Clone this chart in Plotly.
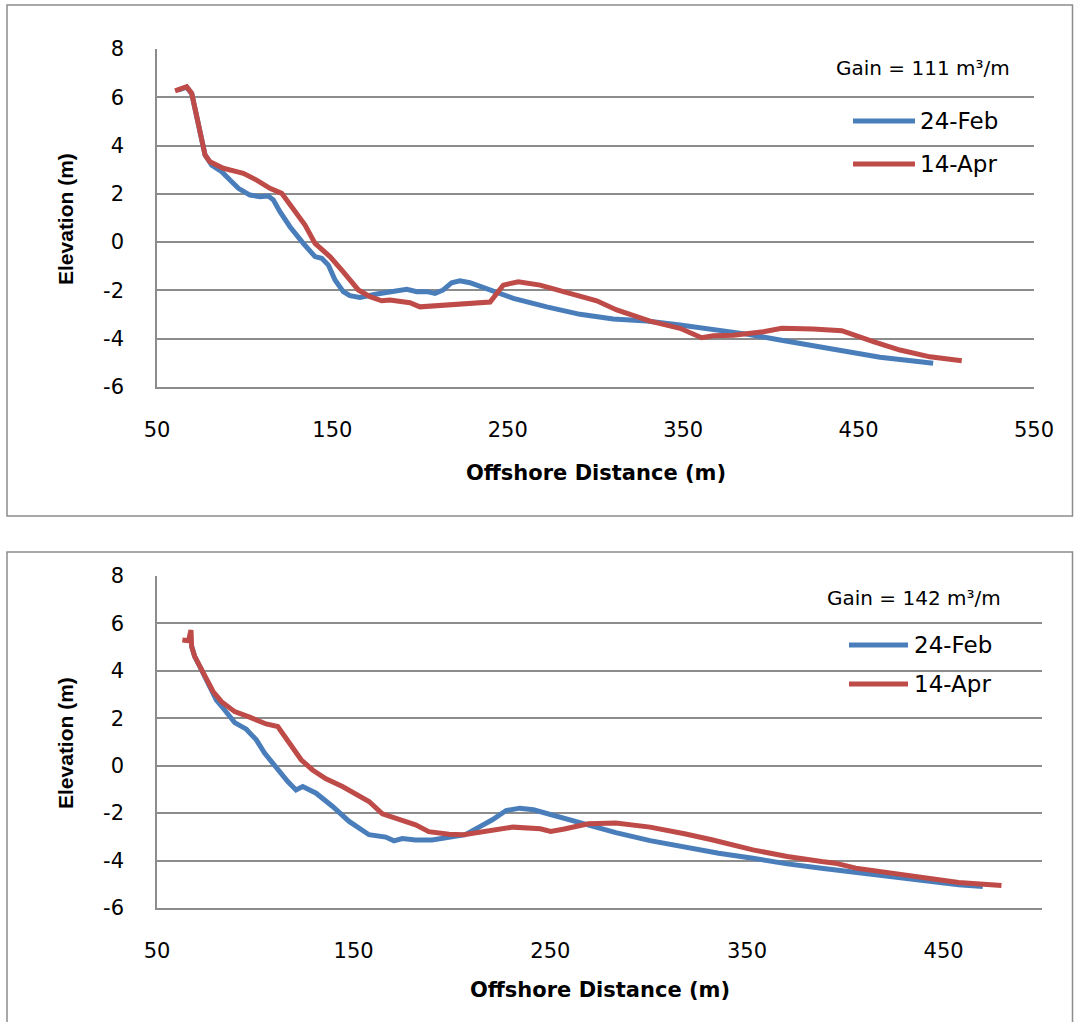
import plotly.graph_objects as go

W, H = 1074, 1022

# ---------------- data ----------------
# Top panel
top_feb_x = [62.0, 66.9, 69.8, 73.5, 77.4, 81.2, 86.9, 91.6, 96.4, 103.0, 108.7, 113.5, 116.3,
             120.1, 125.8, 133.4, 140.1, 143.9, 147.7, 151.5, 156.2, 160.0, 165.7, 175.3,
             184.7, 192.4, 198.1, 203.8, 208.5, 213.2, 218.0, 222.7, 228.4, 234.2, 240.0,
             253.2, 272.2, 291.2, 310.1, 329.2, 348.2, 367.2, 386.2, 405.2, 424.2, 443.2,
             462.2, 481.2, 492.5]
top_feb_y = [6.30, 6.42, 6.15, 4.92, 3.61, 3.19, 2.92, 2.57, 2.23, 1.95, 1.88, 1.91, 1.75,
             1.26, 0.64, -0.05, -0.60, -0.67, -0.95, -1.57, -2.05, -2.22, -2.29, -2.15,
             -2.05, -1.95, -2.05, -2.05, -2.12, -1.98, -1.68, -1.60, -1.68, -1.82, -1.98,
             -2.33, -2.68, -2.99, -3.18, -3.27, -3.43, -3.60, -3.81, -4.05, -4.30, -4.54,
             -4.77, -4.92, -5.02]

top_apr_x = [60.3, 66.9, 69.8, 73.5, 77.4, 80.2, 87.8, 95.4, 99.2, 106.8, 114.4, 121.1, 127.7,
             134.4, 140.1, 148.6, 156.2, 164.8, 171.4, 178.1, 182.8, 194.2, 199.9, 239.9,
             247.4, 256.0, 268.4, 287.3, 300.7, 312.1, 331.1, 348.2, 360.5, 367.2, 378.6,
             395.7, 406.2, 424.2, 440.4, 458.4, 473.6, 490.7, 508.8]
top_apr_y = [6.27, 6.44, 6.16, 4.92, 3.61, 3.33, 3.06, 2.92, 2.85, 2.57, 2.23, 2.02, 1.33,
             0.71, -0.05, -0.60, -1.23, -1.98, -2.26, -2.43, -2.40, -2.51, -2.68, -2.48,
             -1.78, -1.64, -1.78, -2.19, -2.43, -2.81, -3.27, -3.57, -3.96, -3.88, -3.86,
             -3.71, -3.57, -3.60, -3.67, -4.12, -4.47, -4.75, -4.91]

# Bottom panel
bot_feb_x = [67.6, 69.2, 71.8, 76.0, 80.2, 84.4, 89.5, 95.4, 100.5, 104.7, 110.6, 116.5, 120.7,
             124.1, 130.9, 139.3, 147.7, 157.8, 166.3, 170.5, 174.7, 181.5, 189.9, 198.4,
             206.8, 213.5, 220.5, 227.5, 234.5, 241.4, 251.9, 265.9, 283.3, 300.7, 318.2,
             335.6, 353.0, 370.5, 387.9, 405.3, 422.8, 440.2, 457.6, 469.9]
bot_feb_y = [5.05, 4.60, 4.18, 3.48, 2.77, 2.35, 1.82, 1.54, 1.09, 0.53, -0.10, -0.67, -1.02,
             -0.88, -1.16, -1.72, -2.35, -2.91, -3.01, -3.17, -3.07, -3.13, -3.13, -3.03,
             -2.91, -2.60, -2.28, -1.89, -1.79, -1.86, -2.11, -2.40, -2.82, -3.16, -3.43,
             -3.69, -3.90, -4.14, -4.32, -4.50, -4.70, -4.88, -5.02, -5.09]

bot_apr_x = [62.9, 66.0, 67.3, 67.6, 69.2, 73.4, 78.5, 82.8, 89.5, 97.1, 105.5, 111.4, 117.3,
             123.3, 129.1, 135.9, 144.3, 151.1, 157.8, 164.6, 174.7, 181.5, 188.2, 198.4,
             205.9, 213.5, 222.3, 231.0, 244.9, 250.2, 257.1, 269.3, 283.3, 300.7, 318.2,
             332.1, 353.0, 370.5, 387.9, 394.9, 405.3, 422.8, 440.2, 457.6, 479.4]
bot_apr_y = [5.30, 5.27, 5.72, 5.02, 4.60, 3.90, 3.13, 2.70, 2.28, 2.05, 1.76, 1.65, 0.95,
             0.25, -0.18, -0.55, -0.88, -1.19, -1.51, -2.03, -2.28, -2.49, -2.78, -2.89,
             -2.91, -2.82, -2.73, -2.59, -2.66, -2.77, -2.67, -2.45, -2.42, -2.59, -2.87,
             -3.12, -3.55, -3.83, -4.04, -4.11, -4.32, -4.53, -4.74, -4.92, -5.05]

series_names = ["24-Feb", "14-Apr"]
gain_labels = ["Gain = 111 m³/m", "Gain = 142 m³/m"]
y_ticks = [-6, -4, -2, 0, 2, 4, 6, 8]
y_tick_text = ["-6", "-4", "-2", "0", "2", "4", "6", "8"]
x_ticks_top = [50, 150, 250, 350, 450, 550]
x_ticks_bot = [50, 150, 250, 350, 450]
x_title = "Offshore Distance (m)"
y_title = "Elevation (m)"

# ---------------- style ----------------
BLUE = "#4a7ebb"
RED = "#be4b48"
GRID = "#8c8c8c"
TICK_FONT = dict(family="DejaVu Sans", size=21, color="black")
LW = 5


def px(x):
    return x / W


def py(y):
    return 1 - y / H


fig = go.Figure()

fig.add_trace(go.Scatter(x=top_feb_x, y=top_feb_y, mode="lines", name=series_names[0],
                         line=dict(color=BLUE, width=LW), xaxis="x", yaxis="y", showlegend=False))
fig.add_trace(go.Scatter(x=top_apr_x, y=top_apr_y, mode="lines", name=series_names[1],
                         line=dict(color=RED, width=LW), xaxis="x", yaxis="y", showlegend=False))
fig.add_trace(go.Scatter(x=bot_feb_x, y=bot_feb_y, mode="lines", name=series_names[0],
                         line=dict(color=BLUE, width=LW), xaxis="x2", yaxis="y2", showlegend=False))
fig.add_trace(go.Scatter(x=bot_apr_x, y=bot_apr_y, mode="lines", name=series_names[1],
                         line=dict(color=RED, width=LW), xaxis="x2", yaxis="y2", showlegend=False))

common_x = dict(showgrid=False, zeroline=False, showline=True, linecolor=GRID, linewidth=1.5,
                ticks="", tickfont=TICK_FONT, ticklabelstandoff=23, fixedrange=True,
                automargin=False)
common_y = dict(showgrid=True, gridcolor=GRID, gridwidth=1.5, zeroline=False, showline=True,
                linecolor=GRID, linewidth=1.5, ticks="", tickfont=TICK_FONT,
                ticklabelstandoff=27, range=[-6, 8], tickvals=y_ticks, ticktext=y_tick_text,
                fixedrange=True, automargin=False)

fig.update_layout(
    width=W, height=H,
    margin=dict(l=0, r=0, t=0, b=0, pad=0, autoexpand=False),
    paper_bgcolor="white", plot_bgcolor="white",
    xaxis=dict(domain=[px(157), px(1034)], range=[50, 550], tickvals=x_ticks_top,
               anchor="y", **common_x),
    yaxis=dict(domain=[py(387), py(49)], anchor="x", **common_y),
    xaxis2=dict(domain=[px(157), px(1042)], range=[50, 500], tickvals=x_ticks_bot,
                anchor="y2", **common_x),
    yaxis2=dict(domain=[py(908), py(576)], anchor="x2", **common_y),
)

shapes = []
# panel borders
shapes.append(dict(type="rect", xref="paper", yref="paper", x0=px(7), x1=px(1072.5),
                   y0=py(516), y1=py(5), line=dict(color=GRID, width=1.5)))
shapes.append(dict(type="rect", xref="paper", yref="paper", x0=px(7), x1=px(1072.5),
                   y0=py(1040), y1=py(552), line=dict(color=GRID, width=1.5)))

annotations = []


def add_panel_text(gain_text, gain_x, gain_y, leg_x0, leg_x1, leg_y1, leg_y2, text_x,
                   xt_x, xt_y, yt_x, yt_y):
    annotations.append(dict(text=gain_text, x=px(gain_x), y=py(gain_y), xref="paper", yref="paper",
                            xanchor="left", yanchor="middle", showarrow=False,
                            font=dict(family="DejaVu Sans", size=20, color="black")))
    for ly, col, name in [(leg_y1, BLUE, series_names[0]), (leg_y2, RED, series_names[1])]:
        shapes.append(dict(type="line", xref="paper", yref="paper", x0=px(leg_x0), x1=px(leg_x1),
                           y0=py(ly), y1=py(ly), line=dict(color=col, width=5)))
        annotations.append(dict(text=name, x=px(text_x), y=py(ly), xref="paper", yref="paper",
                                xanchor="left", yanchor="middle", showarrow=False,
                                font=dict(family="DejaVu Sans", size=23, color="black")))
    annotations.append(dict(text="<b>" + x_title + "</b>", x=px(xt_x), y=py(xt_y), xref="paper",
                            yref="paper", xanchor="center", yanchor="middle", showarrow=False,
                            font=dict(family="DejaVu Sans", size=21, color="black")))
    annotations.append(dict(text="<b>" + y_title + "</b>", x=px(yt_x), y=py(yt_y), xref="paper",
                            yref="paper", xanchor="center", yanchor="middle", showarrow=False,
                            textangle=-90,
                            font=dict(family="Liberation Sans", size=21, color="black")))


add_panel_text(gain_labels[0], 834, 68, 853, 915, 121, 164, 918, 596, 473, 65, 219)
add_panel_text(gain_labels[1], 825, 598, 849, 908, 645, 684, 912, 600, 990, 65, 743)

fig.update_layout(shapes=shapes, annotations=annotations)

fig.write_html(
    "out.html",
    config={"displayModeBar": False},
    post_script="document.body.style.margin='0';document.body.style.padding='0';"
                "document.documentElement.style.overflow='hidden';",
)
